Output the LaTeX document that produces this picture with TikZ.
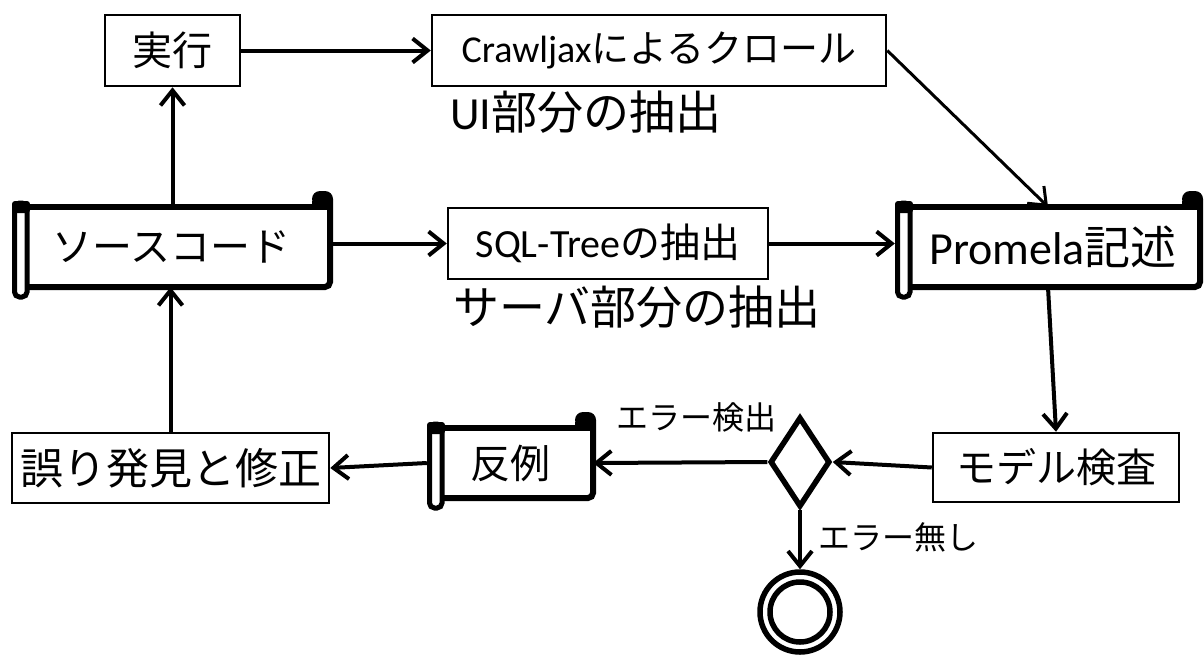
\documentclass[tikz,border=0pt]{standalone}
\usepackage{fontspec}
\setmainfont{Carlito}
\newfontfamily\jp{Noto Sans CJK JP}
\usetikzlibrary{arrows.meta,shapes.geometric,calc}
\tikzset{
  box/.style={draw, line width=2.5pt, inner sep=0pt, rectangle},
  scrollnode/.style={draw=none, inner sep=0pt, rectangle},
  conn/.style={line width=4pt, -{Straight Barb[length=15pt,width=24pt]}},
  thinconn/.style={line width=3pt, -{Straight Barb[length=15pt,width=24pt]}},
  sz/.style={font=\fontsize{#1}{#1}\selectfont},
}
\newcommand\scrollfig[4]{%
  \draw[line width=6pt, rounded corners=5pt] (#1+12,#4) -- (#3,#4) -- (#3,#2-8);
  \draw[line width=6pt] (#1+6,#2) -- (#3,#2);
  \fill[rounded corners=8pt] (#3+3,#2) -- (#3+3,#2-16) -- (#3-18,#2-16) -- (#3-18,#2) -- cycle;
  \fill (#3-18,#2-6) rectangle (#3+3,#2+3);
  \draw[line width=5pt, fill=white, rounded corners=5pt] (#1+2.5,#2-4) rectangle (#1+15,#4+10);
  \fill[rounded corners=3pt] (#1,#2-6) rectangle (#1+18,#2+6);
}
\begin{document}
\begin{tikzpicture}[x=1pt,y=-1pt]
\useasboundingbox (0,0) rectangle (1204,656);

% scroll shapes
\scrollfig{12}{207}{330}{287}
\scrollfig{895}{207}{1200}{287}
\scrollfig{427}{428}{593}{498}

% boxes
\node[box, minimum width=135pt, minimum height=71pt, sz=40] (exec) at (172.5,50.5) {\jp 実行};
\node[box, minimum width=454pt, minimum height=71pt, sz=38] (crawl) at (659,50.5) {Crawljax{\jp によるクロール}\hspace{40pt}};
\node[box, minimum width=320pt, minimum height=71pt, sz=40] (sql) at (608,243.5) {SQL-Tree{\jp の抽出}\hspace{16pt}};
\node[box, minimum width=246pt, minimum height=69pt, sz=40] (model) at (1056,467.5) {\jp モデル検査};
\node[box, minimum width=317pt, minimum height=70pt, sz=43] (fix) at (170.5,468) {\jp 誤り発見と修正};

% scroll nodes
\node[scrollnode, minimum width=318pt, minimum height=80pt, sz=40] (src) at (171,247) {\jp ソースコード\hspace{6pt}};
\node[scrollnode, minimum width=306pt, minimum height=80pt, sz=46] (prom) at (1048,247) {Promela{\jp 記述}\hspace*{-10pt}};
\node[scrollnode, minimum width=166pt, minimum height=70pt, sz=40] (cex) at (510,463) {\jp 反例\hspace{26pt}};

% decision and final
\node[diamond, draw, line width=5.5pt, inner sep=0pt, minimum width=60pt, minimum height=90pt] (dec) at (800,462) {};
\node[circle, draw, line width=5.5pt, inner sep=0pt, minimum size=80pt] (fin) at (800,612) {};
\node[circle, draw, line width=5.5pt, inner sep=0pt, minimum size=60pt] (fininner) at (800,612) {};

% free texts
\node[anchor=west, inner sep=0pt, sz=46] (ui) at (450,112) {UI{\jp 部分の抽出}};
\node[anchor=west, inner sep=0pt, sz=46] (srv) at (453,307) {\jp サーバ部分の抽出};

% connectors
\draw[conn] (exec) -- (crawl);
\draw[conn] (src.north -| exec.south) -- (exec.south);
\draw[conn] (src.east |- sql.west) -- (sql.west);
\draw[conn] (sql.east) -- (sql.east -| prom.west);
\draw[thinconn] (crawl.east) -- (prom.north);
\draw[conn] (prom.south) -- (model.north);
\draw[conn] (model.west) -- (dec.east);
\draw[conn] (dec.west) -- (cex.east);
\draw[conn] (cex.west) -- (fix.east);
\draw[conn] (fix.north) -- (fix.north |- src.south);
\draw[conn] (dec.south) -- (fin.north);

% labels
\node[anchor=east, inner sep=0pt, sz=32] (lerr) at (777,417) {\jp エラー検出};
\node[anchor=west, inner sep=0pt, sz=32] (lok) at (818,537) {\jp エラー無し};
\end{tikzpicture}
\end{document}
